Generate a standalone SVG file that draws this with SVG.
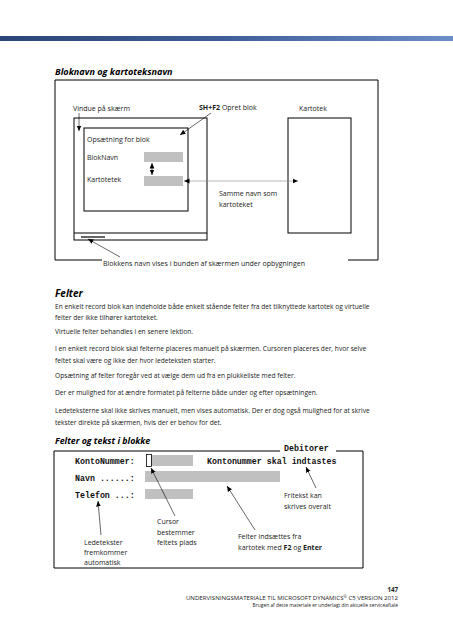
<svg xmlns="http://www.w3.org/2000/svg" width="453" height="640" viewBox="0 0 453 640">
<style>
.t{font-family:"Open Sans","Noto Sans",sans-serif;font-size:6.65px;fill:#1a1a1a}
.d{font-family:"Open Sans","Noto Sans",sans-serif;font-size:7px;fill:#1a1a1a}
.h{font-family:"Open Sans","Noto Sans",sans-serif;font-weight:bold;font-style:italic;fill:#000}
.m{font-family:"Liberation Mono","DejaVu Sans Mono",monospace;font-weight:bold;font-size:8.3px;fill:#111}
.ln{stroke:#000;stroke-width:1;fill:none}
.ar{stroke:#000;stroke-width:0.6;fill:none;marker-end:url(#ah)}
.bar{fill:#c0c0c0}
.f{font-family:"Open Sans","Noto Sans",sans-serif;fill:#222}
</style>
<defs>
<linearGradient id="hg" x1="0" y1="0" x2="1" y2="0">
<stop offset="0" stop-color="#2c4576"/>
<stop offset="0.5" stop-color="#3f5f98"/>
<stop offset="1" stop-color="#6b8ec8"/>
</linearGradient>
<marker id="ah" markerWidth="7" markerHeight="7" refX="5.5" refY="3" orient="auto" markerUnits="userSpaceOnUse">
<path d="M0,0.6 L5.5,3 L0,5.4 Z" fill="#000"/>
</marker>
<marker id="ahs" markerWidth="7" markerHeight="7" refX="5.5" refY="3" orient="auto-start-reverse" markerUnits="userSpaceOnUse">
<path d="M0,0.6 L5.5,3 L0,5.4 Z" fill="#000"/>
</marker>
</defs>
<rect x="0" y="36" width="453" height="5" fill="url(#hg)"/>

<text class="h" x="55" y="75" font-size="9.1">Bloknavn og kartoteksnavn</text>

<g id="diagram1">
<g id="outer-frame">
<path class="ln" d="M102,260 H55 V80 H378 V260 H348"/>
<text class="d" x="103" y="266">Blokkens navn vises i bunden af skærmen under opbygningen</text>
</g>
<g id="vindue">
<text class="d" x="73" y="111">Vindue på skærm</text>
<rect class="ln" x="74" y="118" width="133" height="122"/>
<line class="ln" x1="74" y1="233" x2="207" y2="233"/>
<line x1="81" y1="237" x2="105" y2="237" stroke="#000" stroke-width="1.2"/>
</g>
<g id="opsaetning">
<rect class="ln" x="84" y="128" width="104" height="83"/>
<text class="d" x="87" y="142">Opsætning for blok</text>
<text class="d" x="87" y="160">BlokNavn</text>
<text class="d" x="87" y="182">Kartotetek</text>
<rect class="bar" x="144" y="152" width="39" height="10"/>
<rect class="bar" x="144" y="176" width="39" height="10"/>
</g>
<g id="sh-f2">
<text class="d" x="199" y="110"><tspan font-weight="bold">SH+F2</tspan>  Opret blok</text>
</g>
<g id="kartotek">
<text class="d" x="299" y="111">Kartotek</text>
<rect class="ln" x="288" y="118" width="63" height="115"/>
</g>
<g id="samme-navn">
<text class="d" x="219" y="196">Samme navn som</text>
<text class="d" x="219" y="207">kartoteket</text>
</g>
<g id="connectors1">
<line class="ar" x1="79" y1="113" x2="79" y2="131"/>
<line class="ar" x1="211" y1="113" x2="180" y2="135"/>
<line stroke="#000" stroke-width="0.6" x1="152" y1="163" x2="152" y2="175" marker-start="url(#ahs)" marker-end="url(#ah)"/>
<line stroke="#888" stroke-width="0.6" x1="184" y1="181" x2="298" y2="181" marker-start="url(#ahs)" marker-end="url(#ah)"/>
<line class="ar" x1="120" y1="257" x2="88" y2="239"/>
</g>
</g>

<g id="body-text">
<text class="h" x="55" y="297" font-size="10">Felter</text>
<text class="t" x="55" y="309">En enkelt record blok kan indeholde både enkelt stående felter fra det tilknyttede kartotek og virtuelle</text>
<text class="t" x="55" y="320">felter der ikke tilhører kartoteket.</text>
<text class="t" x="55" y="334">Virtuelle felter behandles i en senere lektion.</text>
<text class="t" x="55" y="351">I en enkelt record blok skal felterne placeres manuelt på skærmen. Cursoren placeres der, hvor selve</text>
<text class="t" x="55" y="363">feltet skal være og ikke der hvor ledeteksten starter.</text>
<text class="t" x="55" y="378">Opsætning af felter foregår ved at vælge dem ud fra en plukkeliste med felter.</text>
<text class="t" x="55" y="395">Der er mulighed for at ændre formatet på felterne både under og efter opsætningen.</text>
<text class="t" x="55" y="413">Ledeteksterne skal ikke skrives manuelt, men vises automatisk. Der er dog også mulighed for at skrive</text>
<text class="t" x="55" y="425">tekster direkte på skærmen, hvis der er behov for det.</text>
<text class="h" x="55" y="444" font-size="8.8">Felter og tekst i blokke</text>
</g>

<g id="diagram2">
<g id="frame2">
<path class="ln" d="M280,451 H54 V568 H363 V451 H336"/>
<text class="m" x="284" y="451">Debitorer</text>
</g>
<g id="kontonummer">
<text class="m" x="75" y="464">KontoNummer:</text>
<rect class="bar" x="151" y="455" width="42" height="11"/>
<rect x="146.5" y="454.5" width="5" height="12" fill="none" stroke="#000" stroke-width="0.8"/>
<text class="m" x="207" y="464">Kontonummer skal indtastes</text>
</g>
<g id="navn">
<text class="m" x="75" y="481">Navn ......:</text>
<rect class="bar" x="145" y="471" width="135" height="11"/>
</g>
<g id="telefon">
<text class="m" x="75" y="498">Telefon ...:</text>
<rect class="bar" x="145" y="489" width="48" height="10"/>
</g>
<g id="fritekst">
<text class="d" x="284" y="498">Fritekst kan</text>
<text class="d" x="284" y="509">skrives overalt</text>
</g>
<g id="cursor">
<text class="d" x="157" y="524">Cursor</text>
<text class="d" x="157" y="535">bestemmer</text>
<text class="d" x="157" y="545">feltets  plads</text>
</g>
<g id="felter-inds">
<text class="d" x="238" y="539">Felter indsættes fra</text>
<text class="d" x="238" y="550">kartotek med <tspan font-weight="bold">F2</tspan> og <tspan font-weight="bold">Enter</tspan></text>
</g>
<g id="ledetekster">
<text class="d" x="84" y="545">Ledetekster</text>
<text class="d" x="84" y="555">fremkommer</text>
<text class="d" x="84" y="565">automatisk</text>
</g>
<g id="connectors2">
<line class="ar" x1="101" y1="535" x2="98" y2="501"/>
<line class="ar" x1="175" y1="516" x2="151" y2="468"/>
<line class="ar" x1="316" y1="488" x2="306" y2="467"/>
<line class="ar" x1="255" y1="530" x2="227" y2="486"/>
</g>
</g>

<g id="footer">
<text class="f" x="398" y="592" font-size="6.2" font-weight="bold" text-anchor="end">147</text>
<text class="f" x="398" y="600" font-size="6.1" text-anchor="end">UNDERVISNINGSMATERIALE TIL MICROSOFT DYNAMICS<tspan font-size="4" dy="-2">®</tspan><tspan dy="2"> C5 VERSION 2012</tspan></text>
<text class="f" x="398" y="606.5" font-size="4.9" text-anchor="end">Brugen af dette materiale er underlagt din aktuelle serviceaftale</text>
</g>
</svg>
